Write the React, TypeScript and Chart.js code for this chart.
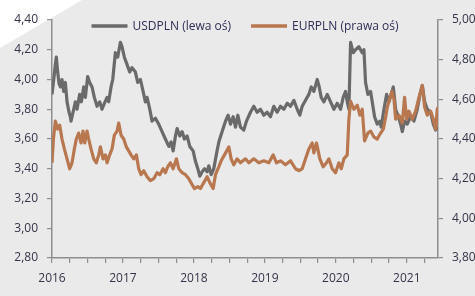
import React, { useEffect, useRef } from 'react';
import { Chart, registerables } from 'chart.js';

Chart.register(...registerables);

// ---- Data (fractional year, rate) ----
const usdDates = [
  2016.0, 2016.02, 2016.047, 2016.061, 2016.08, 2016.1, 2016.118, 2016.141, 2016.165, 2016.188,
  2016.212, 2016.24, 2016.259, 2016.268, 2016.306, 2016.329, 2016.353, 2016.39, 2016.414, 2016.447,
  2016.47, 2016.503, 2016.531, 2016.564, 2016.597, 2016.635, 2016.672, 2016.705, 2016.738, 2016.776,
  2016.799, 2016.832, 2016.856, 2016.893, 2016.926, 2016.964, 2016.987, 2017.02, 2017.058, 2017.095,
  2017.128, 2017.175, 2017.208, 2017.246, 2017.284, 2017.316, 2017.34, 2017.378, 2017.41, 2017.457,
  2017.504, 2017.551, 2017.598, 2017.646, 2017.678, 2017.707, 2017.74, 2017.763, 2017.801, 2017.834,
  2017.866, 2017.904, 2017.942, 2017.989, 2018.022, 2018.055, 2018.083, 2018.116, 2018.149, 2018.186,
  2018.21, 2018.243, 2018.28, 2018.318, 2018.351, 2018.398, 2018.445, 2018.482, 2018.515, 2018.553,
  2018.586, 2018.619, 2018.656, 2018.703, 2018.741, 2018.797, 2018.844, 2018.891, 2018.938, 2018.985,
  2019.032, 2019.079, 2019.126, 2019.173, 2019.22, 2019.268, 2019.315, 2019.362, 2019.409, 2019.456,
  2019.493, 2019.526, 2019.573, 2019.62, 2019.653, 2019.691, 2019.738, 2019.766, 2019.794, 2019.832,
  2019.879, 2019.926, 2019.973, 2020.02, 2020.067, 2020.104, 2020.137, 2020.161, 2020.184, 2020.208,
  2020.245, 2020.278, 2020.325, 2020.372, 2020.396, 2020.419, 2020.452, 2020.49, 2020.513, 2020.546,
  2020.584, 2020.622, 2020.64, 2020.678, 2020.716, 2020.749, 2020.81, 2020.843, 2020.875, 2020.913,
  2020.937, 2020.969, 2021.007, 2021.054, 2021.101, 2021.148, 2021.186, 2021.219, 2021.252, 2021.289,
  2021.336, 2021.374, 2021.407, 2021.43,
];
const usdValues = [
  3.9, 3.98, 4.1, 4.15, 4.05, 3.97, 3.95, 4.0, 3.92, 3.98,
  3.85, 3.78, 3.75, 3.72, 3.8, 3.85, 3.8, 3.9, 3.85, 3.95,
  3.88, 4.02, 3.98, 3.95, 3.88, 3.82, 3.85, 3.8, 3.84, 3.88,
  3.85, 3.95, 4.0, 4.18, 4.15, 4.25, 4.22, 4.15, 4.1, 4.05,
  4.08, 4.05, 3.98, 4.0, 3.92, 3.85, 3.88, 3.8, 3.72, 3.74,
  3.7, 3.65, 3.6, 3.55, 3.58, 3.52, 3.62, 3.67, 3.62, 3.65,
  3.6, 3.62, 3.55, 3.52, 3.45, 3.4, 3.35, 3.38, 3.4, 3.38,
  3.42, 3.36, 3.4, 3.5, 3.58, 3.65, 3.72, 3.76, 3.7, 3.75,
  3.68, 3.76, 3.68, 3.66, 3.72, 3.78, 3.82, 3.78, 3.8, 3.76,
  3.78, 3.75, 3.82, 3.78, 3.82, 3.8, 3.84, 3.82, 3.86, 3.8,
  3.76, 3.82, 3.86, 3.9, 3.95, 3.92, 4.0, 3.95, 3.88, 3.85,
  3.9, 3.85, 3.8, 3.84, 3.8, 3.88, 3.92, 3.85, 3.8, 4.25,
  4.18, 4.2, 4.22, 4.18, 4.2, 3.98, 3.9, 3.92, 3.85, 3.75,
  3.7, 3.72, 3.68, 3.8, 3.9, 3.85, 3.95, 3.8, 3.76, 3.7,
  3.65, 3.72, 3.7, 3.75, 3.72, 3.8, 3.9, 3.96, 3.85, 3.8,
  3.78, 3.7, 3.66, 3.68,
];

const eurDates = [
  2016.0, 2016.02, 2016.047, 2016.08, 2016.108, 2016.141, 2016.174, 2016.212, 2016.249, 2016.282,
  2016.315, 2016.343, 2016.376, 2016.409, 2016.437, 2016.461, 2016.494, 2016.517, 2016.55, 2016.588,
  2016.625, 2016.658, 2016.682, 2016.719, 2016.752, 2016.776, 2016.813, 2016.846, 2016.879, 2016.917,
  2016.94, 2016.973, 2017.011, 2017.048, 2017.081, 2017.114, 2017.152, 2017.189, 2017.222, 2017.255,
  2017.293, 2017.34, 2017.387, 2017.434, 2017.481, 2017.519, 2017.566, 2017.598, 2017.631, 2017.669,
  2017.707, 2017.754, 2017.787, 2017.834, 2017.881, 2017.928, 2017.975, 2018.008, 2018.055, 2018.092,
  2018.139, 2018.186, 2018.224, 2018.271, 2018.304, 2018.351, 2018.384, 2018.431, 2018.492, 2018.525,
  2018.562, 2018.609, 2018.656, 2018.727, 2018.774, 2018.844, 2018.915, 2018.985, 2019.056, 2019.117,
  2019.164, 2019.22, 2019.291, 2019.362, 2019.432, 2019.479, 2019.526, 2019.573, 2019.62, 2019.667,
  2019.691, 2019.728, 2019.775, 2019.822, 2019.869, 2019.902, 2019.949, 2019.996, 2020.043, 2020.076,
  2020.114, 2020.161, 2020.184, 2020.208, 2020.255, 2020.302, 2020.339, 2020.372, 2020.405, 2020.452,
  2020.49, 2020.537, 2020.584, 2020.631, 2020.669, 2020.702, 2020.725, 2020.79, 2020.82, 2020.843,
  2020.89, 2020.937, 2020.969, 2020.997, 2021.03, 2021.077, 2021.124, 2021.172, 2021.219, 2021.252,
  2021.289, 2021.336, 2021.374, 2021.407, 2021.43, 2021.44,
];
const eurValues = [
  4.28, 4.4, 4.49, 4.45, 4.47, 4.4, 4.35, 4.3, 4.25, 4.28,
  4.35, 4.4, 4.43, 4.38, 4.44, 4.38, 4.44, 4.4, 4.35, 4.3,
  4.28, 4.32, 4.36, 4.3, 4.32, 4.28, 4.32, 4.35, 4.42, 4.44,
  4.48, 4.42, 4.4, 4.36, 4.34, 4.32, 4.3, 4.32, 4.25, 4.22,
  4.24, 4.21, 4.19, 4.2, 4.23, 4.22, 4.25, 4.23, 4.26, 4.28,
  4.25, 4.3, 4.25, 4.23, 4.22, 4.2, 4.17, 4.15, 4.16, 4.15,
  4.18, 4.21, 4.18, 4.15, 4.22, 4.26, 4.29, 4.32, 4.36, 4.3,
  4.27, 4.3, 4.28, 4.3, 4.28, 4.3, 4.28, 4.29, 4.28, 4.32,
  4.28, 4.29, 4.27, 4.29, 4.25, 4.24, 4.25, 4.3, 4.35, 4.38,
  4.33, 4.38, 4.3, 4.26, 4.28, 4.3, 4.25, 4.23, 4.28, 4.25,
  4.3, 4.32, 4.5, 4.59, 4.55, 4.57, 4.52, 4.55, 4.39, 4.43,
  4.44, 4.41, 4.4, 4.43, 4.45, 4.51, 4.56, 4.64, 4.6, 4.5,
  4.52, 4.48, 4.61, 4.5, 4.54, 4.5, 4.54, 4.61, 4.67, 4.56,
  4.52, 4.54, 4.5, 4.45, 4.55, 4.56,
];

const seriesNames = ['USDPLN (lewa oś)', 'EURPLN (prawa oś)'];
const yearLabels = [2016, 2017, 2018, 2019, 2020, 2021];
const quarterTicks = [
  2016, 2016.25, 2016.5, 2016.75, 2017, 2017.25, 2017.5, 2017.75, 2018, 2018.25, 2018.5,
  2018.75, 2019, 2019.25, 2019.5, 2019.75, 2020, 2020.25, 2020.5, 2020.75, 2021, 2021.25,
];
const leftTicks = [2.8, 3.0, 3.2, 3.4, 3.6, 3.8, 4.0, 4.2, 4.4];
const rightTicks = [3.8, 4.0, 4.2, 4.4, 4.6, 4.8, 5.0];

// ---- Styles ----
const USD_COLOR = '#6a6a6a';
const EUR_COLOR = '#b8774f';
const AXIS_COLOR = '#8e8e8e';
const TICK_TEXT = '#34344a';
const LEGEND_TEXT = '#2e2d55';
const FONT_FAMILY = '"Open Sans", "DejaVu Sans", sans-serif';

const fmt = (v: number) => v.toFixed(2).replace('.', ',');

const legendPlugin = {
  id: 'inlineLegend',
  afterDatasetsDraw(chart: any) {
    const { ctx, chartArea } = chart;
    ctx.save();
    ctx.font = `12px ${FONT_FAMILY}`;
    const items = chart.data.datasets.map((d: any) => ({
      text: d.label as string,
      color: d.borderColor as string,
      w: ctx.measureText(d.label).width,
    }));
    const box = 36;
    const gap = 5;
    const itemGap = 20;
    const total =
      items.reduce((a: number, it: any) => a + box + gap + it.w, 0) + itemGap * (items.length - 1);
    let x = (chartArea.left + chartArea.right) / 2 - total / 2;
    const y = chartArea.top + 6;
    for (const it of items) {
      ctx.strokeStyle = it.color;
      ctx.lineWidth = 3.5;
      ctx.lineCap = 'butt';
      ctx.beginPath();
      ctx.moveTo(x, y);
      ctx.lineTo(x + box, y);
      ctx.stroke();
      ctx.fillStyle = LEGEND_TEXT;
      ctx.textBaseline = 'middle';
      ctx.textAlign = 'left';
      ctx.fillText(it.text, x + box + gap, y + 0.5);
      x += box + gap + it.w + itemGap;
    }
    ctx.restore();
  },
};

export default function App() {
  const canvasRef = useRef<HTMLCanvasElement | null>(null);

  useEffect(() => {
    if (!canvasRef.current) return;
    const tickFont = { family: FONT_FAMILY, size: 12 };
    const gridCommon = {
      display: true,
      drawOnChartArea: false,
      drawTicks: true,
      color: AXIS_COLOR,
      lineWidth: 1.2,
    };
    const border = { display: true, color: AXIS_COLOR, width: 1.5 };

    const chart = new Chart(canvasRef.current, {
      type: 'line',
      data: {
        datasets: [
          {
            label: seriesNames[0],
            data: usdDates.map((x, i) => ({ x, y: usdValues[i] })),
            yAxisID: 'y',
            borderColor: USD_COLOR,
            backgroundColor: USD_COLOR,
            borderWidth: 3.2,
            borderJoinStyle: 'round',
            pointRadius: 0,
            tension: 0,
            order: 1,
          },
          {
            label: seriesNames[1],
            data: eurDates.map((x, i) => ({ x, y: eurValues[i] })),
            yAxisID: 'y1',
            borderColor: EUR_COLOR,
            backgroundColor: EUR_COLOR,
            borderWidth: 3.2,
            borderJoinStyle: 'round',
            pointRadius: 0,
            tension: 0,
            order: 0,
          },
        ],
      },
      options: {
        responsive: false,
        animation: false,
        layout: { padding: { top: 20, left: 0, right: 0, bottom: 0 } },
        plugins: {
          legend: { display: false },
          tooltip: { enabled: false },
        },
        scales: {
          x: {
            type: 'linear',
            min: 2016,
            max: 2021.44,
            afterBuildTicks: (s: any) => {
              s.ticks = quarterTicks.map((v) => ({ value: v }));
            },
            afterFit: (s: any) => {
              s.height = 38;
            },
            ticks: {
              autoSkip: false,
              maxRotation: 0,
              padding: 8,
              color: TICK_TEXT,
              font: tickFont,
              callback: (v: any) => (yearLabels.includes(Number(v)) ? String(v) : ''),
            },
            grid: { ...gridCommon, tickLength: 5 },
            border,
          },
          y: {
            type: 'linear',
            position: 'left',
            min: 2.8,
            max: 4.4,
            afterBuildTicks: (s: any) => {
              s.ticks = leftTicks.map((v) => ({ value: v }));
            },
            afterFit: (s: any) => {
              s.width = 52;
            },
            ticks: {
              padding: 9,
              color: TICK_TEXT,
              font: tickFont,
              callback: (v: any) => fmt(Number(v)),
            },
            grid: { ...gridCommon, tickLength: 5 },
            border,
          },
          y1: {
            type: 'linear',
            position: 'right',
            min: 3.8,
            max: 5.0,
            afterBuildTicks: (s: any) => {
              s.ticks = rightTicks.map((v) => ({ value: v }));
            },
            afterFit: (s: any) => {
              s.width = 37;
            },
            ticks: {
              padding: 9,
              color: TICK_TEXT,
              font: tickFont,
              callback: (v: any) => fmt(Number(v)),
            },
            grid: { ...gridCommon, tickLength: 5 },
            border,
          },
        },
      },
      plugins: [legendPlugin],
    } as any);

    return () => {
      chart.destroy();
    };
  }, []);

  return (
    <div
      style={{
        position: 'fixed',
        left: 0,
        top: 0,
        width: 475,
        height: 296,
        background: '#ffffff',
        overflow: 'hidden',
      }}
    >
      <div
        style={{
          position: 'absolute',
          inset: 0,
          background: '#eaeaea',
          clipPath: 'polygon(0px 48px, 82px 0px, 475px 0px, 475px 296px, 0px 296px)',
        }}
      />
      <canvas
        ref={canvasRef}
        width={475}
        height={296}
        style={{ position: 'absolute', left: 0, top: 0, display: 'block' }}
      />
    </div>
  );
}
